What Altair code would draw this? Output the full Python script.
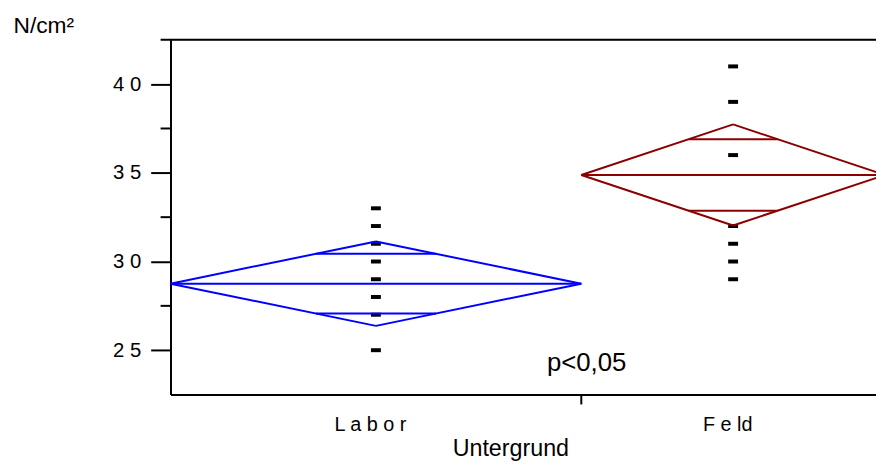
import math
import altair as alt
import pandas as pd

# ---- data ----
groups = ["Labor", "Feld"]
group_labels = ["L a b o r", "F e ld"]
group_widths = [23, 17]          # relative diamond widths
group_means = [28.75, 34.88]
group_ci = [2.38, 2.85]          # half height of the means diamonds
group_colors = ["#0000FF", "#8B0000"]
labor_points = [33, 32, 31, 30, 29, 28, 27, 25]
feld_points = [41, 39, 36, 32, 31, 30, 29]
y_major = [25, 30, 35, 40]
y_minor = [27.5, 32.5, 37.5]
y_domain = [22.5, 42.5]
x_domain = [0, 39.5]
label_shift = 0.33               # category labels sit slightly left of centre
p_text = "p<0,05"
p_pos = (23.3, 23.83)

W, H = 712, 358

# ---- build tables ----
segs = []
centers = []
bounds = []
start = 0.0
for g, w, m, h in zip(groups, group_widths, group_means, group_ci):
    left, right = start, start + w
    c = (left + right) / 2
    hw = w / 2
    centers.append(c)
    bounds.append(right)
    k = 1 - 1 / math.sqrt(2)
    ov = h / math.sqrt(2)
    lines = [
        (left, m, c, m + h),
        (c, m + h, right, m),
        (right, m, c, m - h),
        (c, m - h, left, m),
        (left, m, right, m),
        (c - hw * k, m + ov, c + hw * k, m + ov),
        (c - hw * k, m - ov, c + hw * k, m - ov),
    ]
    for x1, y1, x2, y2 in lines:
        segs.append({"group": g, "x": x1, "y": y1, "x2": x2, "y2": y2})
    start = right
seg_df = pd.DataFrame(segs)

pts = [{"group": "Labor", "x": centers[0], "y": v} for v in labor_points] + \
      [{"group": "Feld", "x": centers[1], "y": v} for v in feld_points]
pts_df = pd.DataFrame(pts)

xs = alt.Scale(domain=x_domain, nice=False, zero=False)
ys = alt.Scale(domain=y_domain, nice=False, zero=False)

label_expr_x = "datum.value < {} ? '{}' : '{}'".format(bounds[0], group_labels[0], group_labels[1])

x_axis = alt.Axis(values=[c - label_shift for c in centers], ticks=False, tickSize=0,
                  labelExpr=label_expr_x,
                  labelFontSize=20, labelPadding=20, labelColor="black",
                  labelFlush=False, domainWidth=2, domainColor="black", grid=False,
                  title="Untergrund", titleFontSize=23.5, titleFontWeight="normal",
                  titleColor="black", titleX=343, titleY=62, titleAlign="center",
                  titleBaseline="alphabetic")
y_axis = alt.Axis(values=y_major, tickSize=20, tickWidth=2, tickColor="black",
                  domainWidth=2, domainColor="black", grid=False,
                  labelFontSize=20.5, labelPadding=10, labelColor="black",
                  labelExpr="substring(datum.label,0,1)+' '+substring(datum.label,1)",
                  title="N/cm²", titleAngle=0, titleX=-159, titleY=-7,
                  titleAlign="left", titleBaseline="alphabetic", titleFontSize=23,
                  titleFontWeight="normal", titleColor="black")

X = alt.X("x:Q", scale=xs, axis=x_axis)
Y = alt.Y("y:Q", scale=ys, axis=y_axis)

points = alt.Chart(pts_df).mark_tick(orient="horizontal", size=10, thickness=4,
                                     color="black", opacity=1).encode(x=X, y=Y)

diamonds = alt.Chart(seg_df).mark_rule(strokeWidth=2, clip=True).encode(
    x=X, x2="x2:Q", y=Y, y2="y2:Q",
    color=alt.Color("group:N", scale=alt.Scale(domain=groups, range=group_colors),
                    legend=None),
)

minor = alt.Chart(pd.DataFrame({"y": y_minor})).mark_rule(
    strokeWidth=2, color="black", clip=False).encode(
    y=Y, x=alt.value(-10), x2=alt.value(0),
)

top_line = alt.Chart(pd.DataFrame({"y": [y_domain[1]]})).mark_rule(
    strokeWidth=2, color="black", clip=False).encode(
    y=Y, x=alt.value(-10), x2=alt.value(W),
)

sep_tick = alt.Chart(pd.DataFrame({"x": [bounds[0]]})).mark_rule(
    strokeWidth=2, color="black", clip=False).encode(
    x=X, y=alt.value(H), y2=alt.value(H + 10),
)

ptext = alt.Chart(pd.DataFrame({"x": [p_pos[0]], "y": [p_pos[1]], "t": [p_text]})).mark_text(
    fontSize=26, align="center", baseline="alphabetic", color="black").encode(
    x=X, y=Y, text="t:N",
)

chart = alt.layer(points, diamonds, minor, top_line, sep_tick, ptext).properties(
    width=W, height=H,
    autosize=alt.AutoSizeParams(type="none"),
    padding={"left": 164, "top": 30, "right": 0, "bottom": 67},
).configure_view(stroke=None).configure(font="Liberation Sans")

chart.save("out.html", embed_options={"renderer": "svg", "actions": False})
